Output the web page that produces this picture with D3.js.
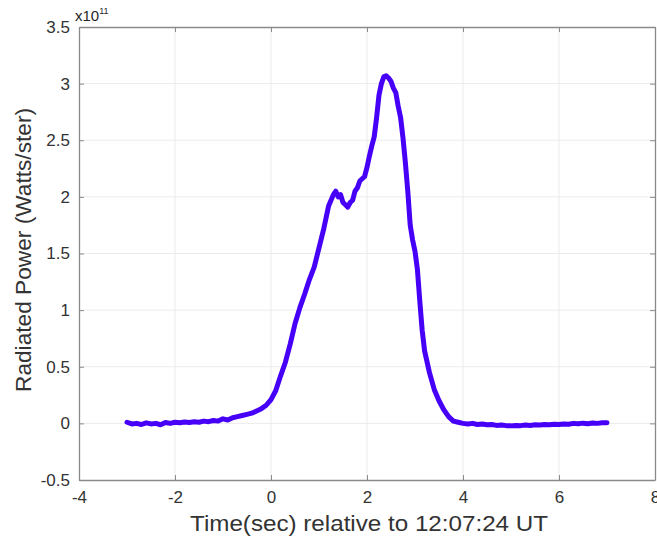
<!DOCTYPE html>
<html><head><meta charset="utf-8">
<script src="https://cdn.jsdelivr.net/npm/d3@7"></script>
<style>body{margin:0;background:#fff;font-family:"Liberation Sans",Arial,sans-serif;}</style>
</head><body><svg id="c" width="657" height="541"></svg>
<script>
const times = [-3.0,-2.9,-2.8,-2.7,-2.6,-2.5,-2.4,-2.3,-2.2,-2.1,-2.0,-1.9,-1.8,-1.7,-1.6,-1.5,-1.4,-1.3,-1.2,-1.1,-1.0,-0.9,-0.8,-0.7,-0.6,-0.5,-0.4,-0.3,-0.2,-0.1,
0.0,0.1,0.2,0.3,0.4,0.5,0.6,0.7,0.8,0.9,1.0,1.1,1.2,1.3,1.35,1.4,1.45,1.5,1.55,1.6,1.65,1.7,1.75,1.8,1.85,1.9,1.95,2.0,2.05,2.1,2.15,2.2,2.25,2.3,2.35,2.4,2.45,2.5,2.55,2.6,2.65,2.7,2.75,2.8,2.85,2.9,2.95,3.0,3.05,3.1,3.15,3.2,3.3,3.4,3.5,3.6,3.7,3.8,3.9,
4.0,4.1,4.2,4.3,4.4,4.5,4.6,4.7,4.8,4.9,5.0,5.1,5.2,5.3,5.4,5.5,5.6,5.7,5.8,5.9,6.0,6.1,6.2,6.3,6.4,6.5,6.6,6.7,6.8,6.9,7.0];
const power = [0.01,-0.005,0.0,-0.01,0.005,-0.005,0.0,-0.012,0.008,0.0,0.01,0.005,0.012,0.008,0.015,0.01,0.02,0.015,0.025,0.02,0.04,0.03,0.05,0.06,0.07,0.08,0.09,0.11,0.13,0.16,
0.21,0.29,0.42,0.54,0.70,0.88,1.02,1.14,1.27,1.38,1.55,1.72,1.92,2.02,2.05,2.00,2.02,1.95,1.93,1.91,1.95,1.97,2.05,2.08,2.14,2.16,2.18,2.26,2.36,2.45,2.53,2.70,2.90,3.00,3.06,3.07,3.05,3.02,2.96,2.92,2.80,2.70,2.52,2.30,2.05,1.75,1.62,1.52,1.36,1.08,0.82,0.64,0.45,0.30,0.20,0.12,0.06,0.02,0.01,
0.0,-0.005,0.0,-0.01,-0.005,-0.012,-0.01,-0.018,-0.015,-0.02,-0.022,-0.018,-0.02,-0.015,-0.018,-0.012,-0.015,-0.01,-0.012,-0.008,-0.01,-0.005,-0.008,0.0,-0.004,0.002,-0.003,0.004,0.0,0.005,0.006];
const xTicks = [-4,-2,0,2,4,6,8];
const yTicks = [-0.5,0,0.5,1,1.5,2,2.5,3,3.5];
const xLabel = "Time(sec) relative to 12:07:24 UT";
const yLabel = "Radiated Power (Watts/ster)";

const FF = "Liberation Sans, Arial, sans-serif";
const svg = d3.select("#c");
const L=79,R=655,T=27,B=480;
const x = d3.scaleLinear().domain([-4,8]).range([L,R]);
const y = d3.scaleLinear().domain([-0.5,3.5]).range([B,T]);
const axc="#8a8a8a";
const fmt = d => String(d);

// grid
svg.append("g").selectAll("line").data(xTicks.slice(1,-1)).join("line")
 .attr("x1",d=>x(d)).attr("x2",d=>x(d)).attr("y1",T).attr("y2",B).attr("stroke","#ebebeb").attr("stroke-width",1);
svg.append("g").selectAll("line").data(yTicks.slice(1,-1)).join("line")
 .attr("y1",d=>y(d)).attr("y2",d=>y(d)).attr("x1",L).attr("x2",R).attr("stroke","#ebebeb").attr("stroke-width",1);

// data line
const line = d3.line().x((d,i)=>x(times[i])).y(d=>y(d)).curve(d3.curveLinear);
svg.append("path").datum(power).attr("d",line).attr("fill","none")
 .attr("stroke","#4600f8").attr("stroke-width",5).attr("stroke-linejoin","round").attr("stroke-linecap","round");

// axes
const fs = 17;
const gx = svg.append("g").attr("transform",`translate(0,${B})`)
 .call(d3.axisBottom(x).tickValues(xTicks).tickSizeInner(-5).tickSizeOuter(0).tickPadding(11).tickFormat(fmt));
const gxt = svg.append("g").attr("transform",`translate(0,${T})`)
 .call(d3.axisTop(x).tickValues(xTicks).tickSizeInner(-5).tickSizeOuter(0).tickFormat(""));
const gy = svg.append("g").attr("transform",`translate(${L},0)`)
 .call(d3.axisLeft(y).tickValues(yTicks).tickSizeInner(-5).tickSizeOuter(0).tickPadding(9).tickFormat(fmt));
const gyr = svg.append("g").attr("transform",`translate(${R},0)`)
 .call(d3.axisRight(y).tickValues(yTicks).tickSizeInner(-5).tickSizeOuter(0).tickFormat(""));
[gx,gxt,gy,gyr].forEach(g=>{
  g.select(".domain").attr("stroke",axc).attr("stroke-width",1.3);
  g.selectAll(".tick line").attr("stroke",axc);
  g.selectAll("text").attr("fill","#333").style("font-size",fs+"px").style("font-family",FF);
});

// exponent
const ex = svg.append("text").attr("x",L-4).attr("y",21).attr("fill","#262626")
 .style("font-size","15px").style("font-family",FF);
ex.append("tspan").text("x10");
ex.append("tspan").text("11").attr("dy",-7).style("font-size","9px");

svg.append("text").attr("x",369).attr("y",531).attr("text-anchor","middle").attr("fill","#333")
 .attr("textLength",358).attr("lengthAdjust","spacingAndGlyphs")
 .style("font-size","22px").style("font-family",FF).text(xLabel);
svg.append("text").attr("transform",`translate(31,250) rotate(-90)`).attr("text-anchor","middle").attr("fill","#333")
 .attr("textLength",284).attr("lengthAdjust","spacingAndGlyphs")
 .style("font-size","21.5px").style("font-family",FF).text(yLabel);
</script></body></html>
